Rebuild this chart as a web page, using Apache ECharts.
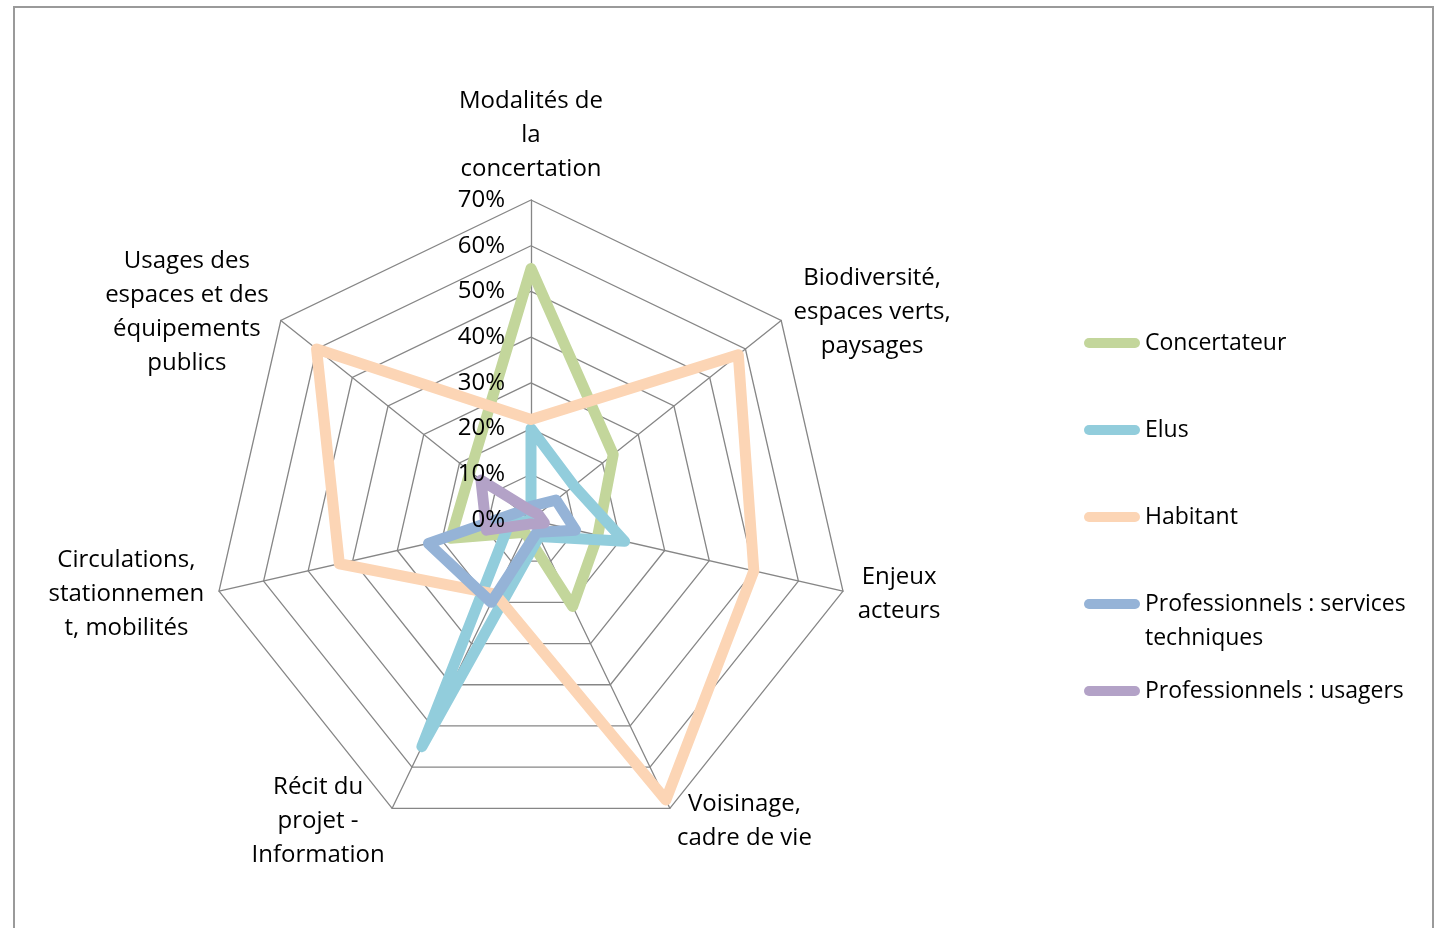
<!DOCTYPE html>
<html>
<head>
<meta charset="utf-8">
<title>Radar concertation</title>
<script src="https://cdn.jsdelivr.net/npm/echarts@6/dist/echarts.min.js"></script>
<style>
  html, body { margin: 0; padding: 0; background: #fff; overflow: hidden; }
  .frame {
    position: absolute; left: 13px; top: 6px; width: 1421px; height: 960px;
    border: 2px solid #9a9a9a; box-sizing: border-box;
  }
  #chart { position: absolute; left: 0; top: 0; width: 1437px; height: 928px; }
</style>
</head>
<body>
<div class="frame"></div>
<div id="chart"></div>
<script>
// axes, in echarts order (top, then counter-clockwise)
const categories = [
  'Modalités de\nla\nconcertation',
  'Usages des\nespaces et des\néquipements\npublics',
  'Circulations,\nstationnemen\nt, mobilités',
  'Récit du\nprojet -\nInformation',
  'Voisinage,\ncadre de vie',
  'Enjeux\nacteurs',
  'Biodiversité,\nespaces verts,\npaysages'
]
const seriesNames = [
  'Concertateur',
  'Elus',
  'Habitant',
  'Professionnels : services techniques',
  'Professionnels : usagers'
]
// values in %
const concertateur = [55, 17, 18, 3, 21, 15, 23]
const elus = [20, 0, 5, 55, 4, 21, 12]
const habitant = [22, 60, 43, 18, 68, 50, 58]
const servicesTechniques = [3, 3, 23, 20, 3, 10, 7]
const usagers = [2, 14, 10, 1, 1, 3, 2]
const axisMax = 70
const axisSplit = 7

const values = [concertateur, elus, habitant, servicesTechniques, usagers]
const colors = ['#c3d69b', '#92cddc', '#fcd5b5', '#95b3d7', '#b3a2c7']
const fontFamily = '"Open Sans", sans-serif'

const chart = echarts.init(document.getElementById('chart'))

// excel centres every line of a wrapped name, so give each name a fixed width
const ctx = document.createElement('canvas').getContext('2d')
ctx.font = '24px "Open Sans"'
const rich = {}
categories.forEach((c, i) => {
  const w = Math.max(...c.split('\n').map(l => ctx.measureText(l).width))
  rich['n' + i] = { width: Math.ceil(w) + 2, align: 'center', fontSize: 24, lineHeight: 34, fontFamily, color: '#000' }
})
const nameFormatter = name => {
  const i = categories.indexOf(name)
  return name.split('\n').map(l => '{n' + i + '|' + l + '}').join('\n')
}

const legendText = name => {
  if (name === 'Professionnels : services techniques') return '\nProfessionnels : services\ntechniques'
  return '\n' + name + '\n'
}

const gridRadar = {
  center: [531, 520],
  radius: 320,
  startAngle: 90,
  shape: 'polygon',
  splitNumber: axisSplit,
  indicator: categories.map(c => ({ name: c, min: 0, max: axisMax })),
  axisName: { formatter: nameFormatter, rich, color: '#000' },
  nameGap: 14,
  axisLine: { lineStyle: { color: '#868686', width: 1.3 } },
  splitLine: { lineStyle: { color: '#868686', width: 1.3 } },
  splitArea: { show: false },
  axisTick: { show: false },
  axisLabel: { show: false }
}

// second radar only for the % labels, drawn above the lines
const labelRadar = {
  center: [531, 520],
  radius: 320,
  startAngle: 90,
  shape: 'polygon',
  splitNumber: axisSplit,
  z: 10,
  indicator: categories.map((c, i) => {
    const ind = { name: c, min: 0, max: axisMax }
    if (i === 0) ind.axisLabel = { show: true }
    return ind
  }),
  axisName: { show: false },
  axisLine: { show: false },
  splitLine: { show: false },
  splitArea: { show: false },
  axisTick: { show: false },
  axisLabel: {
    show: false,
    formatter: '{value}%',
    fontSize: 24,
    fontFamily,
    color: '#000',
    margin: 26
  }
}

const option = {
  animation: false,
  backgroundColor: 'transparent',
  radar: [gridRadar, labelRadar],
  legend: {
    orient: 'vertical',
    left: 1079,
    top: 287,
    itemWidth: 56,
    itemHeight: 10,
    itemGap: -15,
    icon: 'path://M5,0H51A5,5,0,0,1,51,10H5A5,5,0,0,1,5,0Z',
    selectedMode: false,
    formatter: legendText,
    textStyle: { fontSize: 23, lineHeight: 34, fontFamily, color: '#000' },
    data: seriesNames
  },
  series: seriesNames.map((n, i) => ({
    type: 'radar',
    name: n,
    radarIndex: 0,
    symbol: 'none',
    lineStyle: { color: colors[i], width: 11, cap: 'round', join: 'round', opacity: 1 },
    itemStyle: { color: colors[i] },
    data: [{ name: n, value: values[i] }]
  }))
}
chart.setOption(option)
</script>
</body>
</html>
